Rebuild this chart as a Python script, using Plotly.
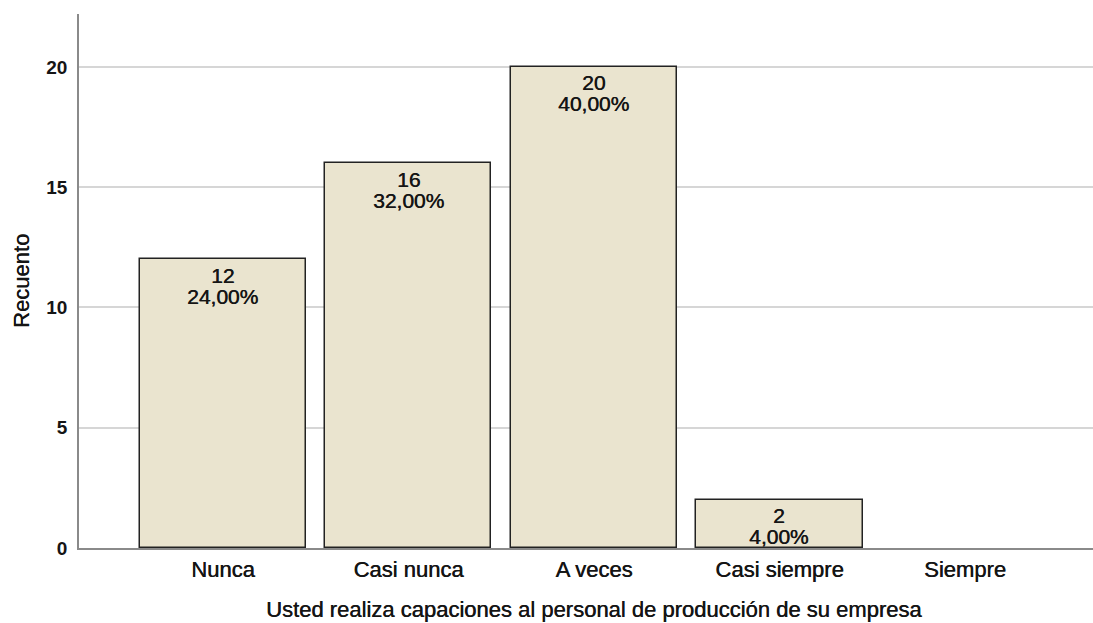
import plotly.graph_objects as go

# Frequencies of responses
categories = ["Nunca", "Casi nunca", "A veces", "Casi siempre", "Siempre"]
counts = [12, 16, 20, 2, 0]
percents = ["24,00%", "32,00%", "40,00%", "4,00%", ""]
y_ticks = [0, 5, 10, 15, 20]

FONT = "Arial, Liberation Sans, sans-serif"
TEXT = "#151515"
# a faint same-colour shadow gives the text a slightly heavier stroke
HEAVY = "0.45px 0 0 #151515"
BAR_FILL = "#EAE4CF"

shown = [i for i, c in enumerate(counts) if c > 0]

fig = go.Figure()
fig.add_trace(go.Bar(
    x=[categories[i] for i in shown],
    y=[counts[i] for i in shown],
    width=0.895,
    marker=dict(color=BAR_FILL, line=dict(color="#222222", width=1.5)),
    hoverinfo="x+y",
))

# count and percentage labels near the top of each bar
for i in shown:
    fig.add_annotation(
        x=categories[i], y=counts[i], text=str(counts[i]),
        showarrow=False, yanchor="middle", yshift=-16,
        font=dict(family=FONT, size=21, color=TEXT, shadow=HEAVY),
    )
    fig.add_annotation(
        x=categories[i], y=counts[i], text=percents[i],
        showarrow=False, yanchor="middle", yshift=-37,
        font=dict(family=FONT, size=21, color=TEXT, shadow=HEAVY),
    )

# axis titles
fig.add_annotation(
    xref="paper", yref="paper", x=0.508, y=0, yshift=-61,
    text="Usted realiza capaciones al personal de producción de su empresa",
    showarrow=False, yanchor="middle", xanchor="center",
    font=dict(family=FONT, size=22, color=TEXT, shadow=HEAVY),
)
fig.add_annotation(
    xref="paper", yref="paper", x=0, xshift=-58, y=0.5,
    text="Recuento", textangle=-90, showarrow=False,
    xanchor="center", yanchor="middle",
    font=dict(family=FONT, size=22, color=TEXT, shadow=HEAVY),
)

fig.update_layout(
    width=1093, height=623,
    margin=dict(l=79, r=0, t=14, b=75),
    paper_bgcolor="white", plot_bgcolor="white",
    showlegend=False,
    font=dict(family=FONT, color=TEXT),
    bargap=0,
)
fig.update_xaxes(
    type="category", categoryorder="array", categoryarray=categories,
    range=[-0.776, 4.69],
    showline=True, linecolor="#8a8a8a", linewidth=1.5,
    showgrid=False, ticks="", ticklabelstandoff=1,
    tickfont=dict(family=FONT, size=22, color=TEXT, shadow=HEAVY),
)
fig.update_yaxes(
    range=[0, 22.2], tickvals=y_ticks,
    showline=True, linecolor="#8a8a8a", linewidth=1.5,
    showgrid=True, gridcolor="#d6d6d6", gridwidth=1.5,
    zeroline=False, ticks="", ticklabelstandoff=6,
    tickfont=dict(family=FONT, size=19, color=TEXT, weight="bold"),
)

fig.write_html("out.html")
